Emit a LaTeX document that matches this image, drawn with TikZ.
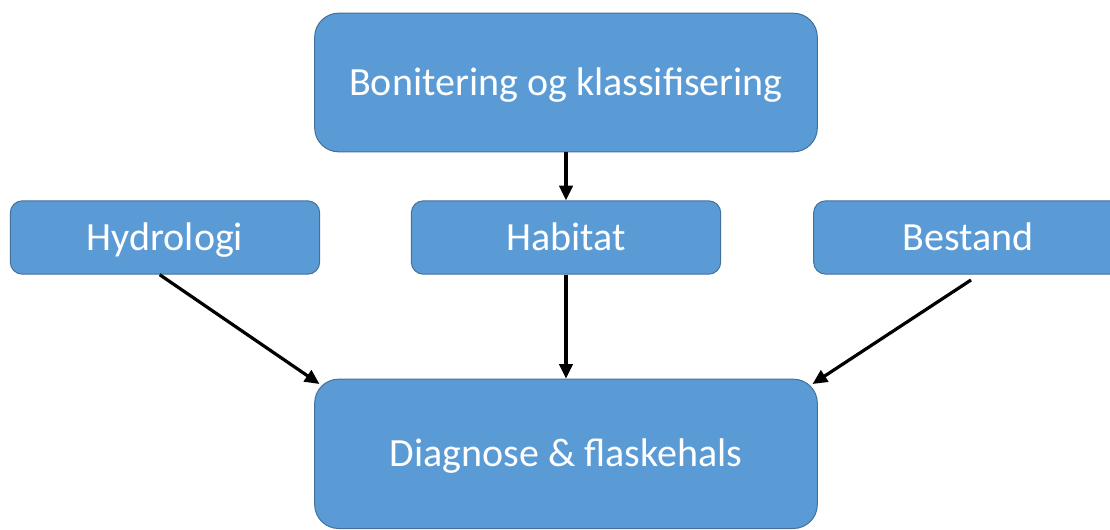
\documentclass[tikz,border=0pt]{standalone}
\usepackage{fontspec}
\setmainfont{Carlito}
\usepackage{xcolor}
\usetikzlibrary{arrows.meta,positioning}
\definecolor{boxfill}{HTML}{5B9BD5}
\definecolor{boxline}{HTML}{41719C}
\tikzset{
  stage/.style={draw=boxline,line width=0.75pt,fill=boxfill,text=white,align=center,font=\fontsize{30}{36}\selectfont,inner sep=0pt,text height=19.5pt,text depth=0pt},
  bigstage/.style={stage,rounded corners=18pt,minimum width=377pt,minimum height=106pt},
  smallstage/.style={stage,rounded corners=9pt,minimum width=232pt,minimum height=55pt},
  flow/.style={-{Triangle[length=11pt,width=10pt]},line width=2.4pt,draw=black}
}
\begin{document}
\begin{tikzpicture}[x=0.75pt,y=-0.75pt]
  \useasboundingbox (0,0) rectangle (1110,529);
  \node[bigstage,minimum height=104pt] (bon) at (566,82.5) {Bonitering og klassifisering};
  \node[smallstage, below=36pt of bon] (hab) {Habitat};
  \node[smallstage, left=68pt of hab] (hyd) {Hydrologi};
  \node[smallstage, right=69pt of hab] (bes) {Bestand};
  \node[bigstage, below=78pt of hab, minimum height=112pt] (dia) {Diagnose \& flaskehals};
  \draw[flow] (bon) -- (hab);
  \draw[flow] (hab) -- (dia);
  \draw[flow] ([xshift=-4pt]hyd.south) -- ([xshift=4pt,yshift=-4pt]dia.north west);
  \draw[flow] ([xshift=2pt,yshift=-4pt]bes.south) -- ([xshift=-4pt,yshift=-4pt]dia.north east);
\end{tikzpicture}
\end{document}
